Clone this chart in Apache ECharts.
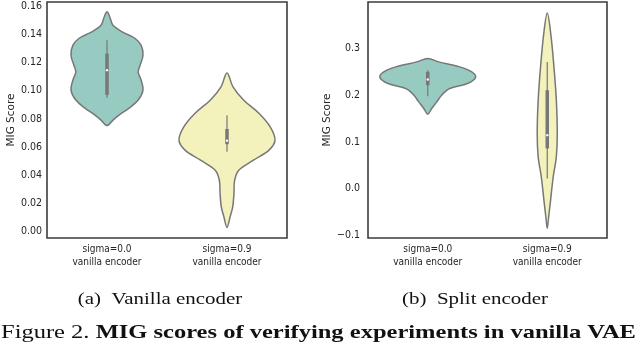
<!DOCTYPE html>
<html>
<head>
<meta charset="utf-8">
<script src="https://cdn.jsdelivr.net/npm/echarts@6/dist/echarts.min.js"></script>
<style>
  html, body { margin: 0; padding: 0; background: #fff; }
  #chart { width: 640px; height: 343px; }
</style>
</head>
<body>
<div id="chart"></div>
<script>
const categories = ['sigma=0.0\nvanilla encoder', 'sigma=0.9\nvanilla encoder']
const vanillaTicks = [0, 0.02, 0.04, 0.06, 0.08, 0.1, 0.12, 0.14, 0.16]
const splitTicks = [-0.1, 0, 0.1, 0.2, 0.3]

// violin outlines, top to bottom: [MIG score, relative density]
const vanillaSigma0 = [
  [0.1558, 0], [0.1520, 0.06], [0.1463, 0.125], [0.1414, 0.33], [0.1371, 0.58],
  [0.1322, 0.71], [0.1251, 0.75], [0.1180, 0.69], [0.1131, 0.65], [0.1075, 0.71],
  [0.1004, 0.75], [0.0933, 0.65], [0.0876, 0.46], [0.0826, 0.25], [0.0791, 0.125],
  [0.0752, 0]
]
const vanillaSigma9 = [
  [0.1125, 0], [0.1027, 0.125], [0.0932, 0.35], [0.0838, 0.67], [0.0743, 0.9],
  [0.0649, 1.0], [0.0578, 0.875], [0.0508, 0.56], [0.0437, 0.25], [0.0366, 0.16],
  [0.0272, 0.145], [0.0177, 0.12], [0.0106, 0.065], [0.0030, 0]
]
const splitSigma0 = [
  [0.2786, 0], [0.2714, 0.23], [0.2607, 0.67], [0.2500, 0.92], [0.2380, 1.0],
  [0.2251, 0.83], [0.2144, 0.46], [0.2001, 0.29], [0.1858, 0.19], [0.1717, 0.083],
  [0.1595, 0]
]
const splitSigma9 = [
  [0.3762, 0], [0.332, 0.073], [0.2607, 0.14], [0.189, 0.19], [0.1182, 0.21],
  [0.0681, 0.19], [0.0254, 0.125], [-0.0245, 0.07], [-0.060, 0.03], [-0.085, 0]
]

// inner box: [whisker low, q1, median, q3, whisker high]
const vanillaBoxes = [
  [0.0950, 0.0970, 0.1145, 0.1262, 0.1357],
  [0.0566, 0.0620, 0.0645, 0.0728, 0.0826]
]
const splitBoxes = [
  [0.198, 0.2215, 0.2337, 0.250, 0.2536],
  [0.0219, 0.0861, 0.1145, 0.2108, 0.2714]
]

const violinColors = ['#97cbc2', '#f3f2bc']
const edgeColor = '#777777'
const textColor = '#262626'
const narrowFont = "'Liberation Sans Narrow', 'DejaVu Sans Condensed', sans-serif"
const serifFont = "'Times New Roman', Times, 'Liberation Serif', serif"

function violinSeries(gridIdx, profiles, boxes) {
  return {
    type: 'custom',
    xAxisIndex: gridIdx,
    yAxisIndex: gridIdx,
    data: boxes.map((b, i) => [i, b[2]]),
    encode: { x: 0, y: 1 },
    renderItem(params, api) {
      const i = params.dataIndex
      const half = api.size([1, 0])[0] * 0.4
      const prof = profiles[i]
      const right = prof.map(([v, d]) => {
        const c = api.coord([i, v])
        return [c[0] + d * half, c[1]]
      })
      const left = prof.slice(1, -1).reverse().map(([v, d]) => {
        const c = api.coord([i, v])
        return [c[0] - d * half, c[1]]
      })
      const b = boxes[i]
      const cx = api.coord([i, b[2]])[0]
      const y = (v) => api.coord([i, v])[1]
      return {
        type: 'group',
        children: [
          {
            type: 'polygon',
            shape: { points: right.concat(left), smooth: 0.35 },
            style: { fill: violinColors[i], stroke: edgeColor, lineWidth: 1.5 },
          },
          {
            type: 'line',
            shape: { x1: cx, y1: y(b[0]), x2: cx, y2: y(b[4]) },
            style: { stroke: edgeColor, lineWidth: 1.2 },
          },
          {
            type: 'line',
            shape: { x1: cx, y1: y(b[1]), x2: cx, y2: y(b[3]) },
            style: { stroke: edgeColor, lineWidth: 3.5 },
          },
          {
            type: 'circle',
            shape: { cx: cx, cy: y(b[2]), r: 1.2 },
            style: { fill: '#ffffff' },
          },
        ],
      }
    },
  }
}

function xAxis(gridIdx) {
  return {
    type: 'category',
    gridIndex: gridIdx,
    data: categories,
    axisLine: { show: false },
    axisTick: { show: false },
    axisLabel: { margin: 4.5, fontSize: 10, lineHeight: 13, color: textColor, fontFamily: narrowFont },
  }
}

function yAxis(gridIdx, min, max, ticks, fmt, margin, nameGap) {
  return {
    type: 'value',
    gridIndex: gridIdx,
    min: min,
    max: max,
    name: 'MIG Score',
    nameLocation: 'middle',
    nameGap: nameGap,
    nameTextStyle: { fontFamily: 'DejaVu Sans', fontSize: 10.5, color: textColor },
    axisLine: { show: false },
    axisTick: { show: false },
    splitLine: { show: false },
    axisLabel: { customValues: ticks, formatter: fmt, margin: margin, fontSize: 10.5, color: textColor, fontFamily: narrowFont },
  }
}

const frame = { show: true, borderColor: '#3d3d3d', borderWidth: 1.6, backgroundColor: 'transparent' }

const chart = echarts.init(document.getElementById('chart'), null, { renderer: 'canvas' })
chart.setOption({
  animation: false,
  grid: [
    { left: 47, top: 2, width: 240, height: 236, ...frame },
    { left: 368, top: 2, width: 239, height: 236, ...frame },
  ],
  xAxis: [xAxis(0), xAxis(1)],
  yAxis: [
    yAxis(0, -0.0045, 0.1628, vanillaTicks, (v) => v.toFixed(2), 5, 23),
    yAxis(1, -0.1058, 0.3997, splitTicks,
      (v) => (v < 0 ? '\u2212' + Math.abs(v).toFixed(1) : v.toFixed(1)), 8, 24),
  ],
  series: [
    violinSeries(0, [vanillaSigma0, vanillaSigma9], vanillaBoxes),
    violinSeries(1, [splitSigma0, splitSigma9], splitBoxes),
  ],
  graphic: [
    {
      type: 'text', x: 160, y: 299.5, scaleX: 1.27,
      style: { text: '(a)  Vanilla encoder', fontSize: 16.5, fontFamily: serifFont, fill: '#111', align: 'center', verticalAlign: 'middle' },
    },
    {
      type: 'text', x: 475, y: 299.5, scaleX: 1.27,
      style: { text: '(b)  Split encoder', fontSize: 16.5, fontFamily: serifFont, fill: '#111', align: 'center', verticalAlign: 'middle' },
    },
    {
      type: 'text', x: 1, y: 333, scaleX: 1.29,
      style: {
        text: '{r|Figure 2. }{b|MIG scores of verifying experiments in vanilla VAE}',
        rich: {
          r: { fontSize: 19, fontFamily: serifFont, fill: '#111' },
          b: { fontSize: 19, fontFamily: serifFont, fontWeight: 'bold', fill: '#111' },
        },
        align: 'left', verticalAlign: 'middle',
      },
    },
  ],
})
</script>
</body>
</html>
